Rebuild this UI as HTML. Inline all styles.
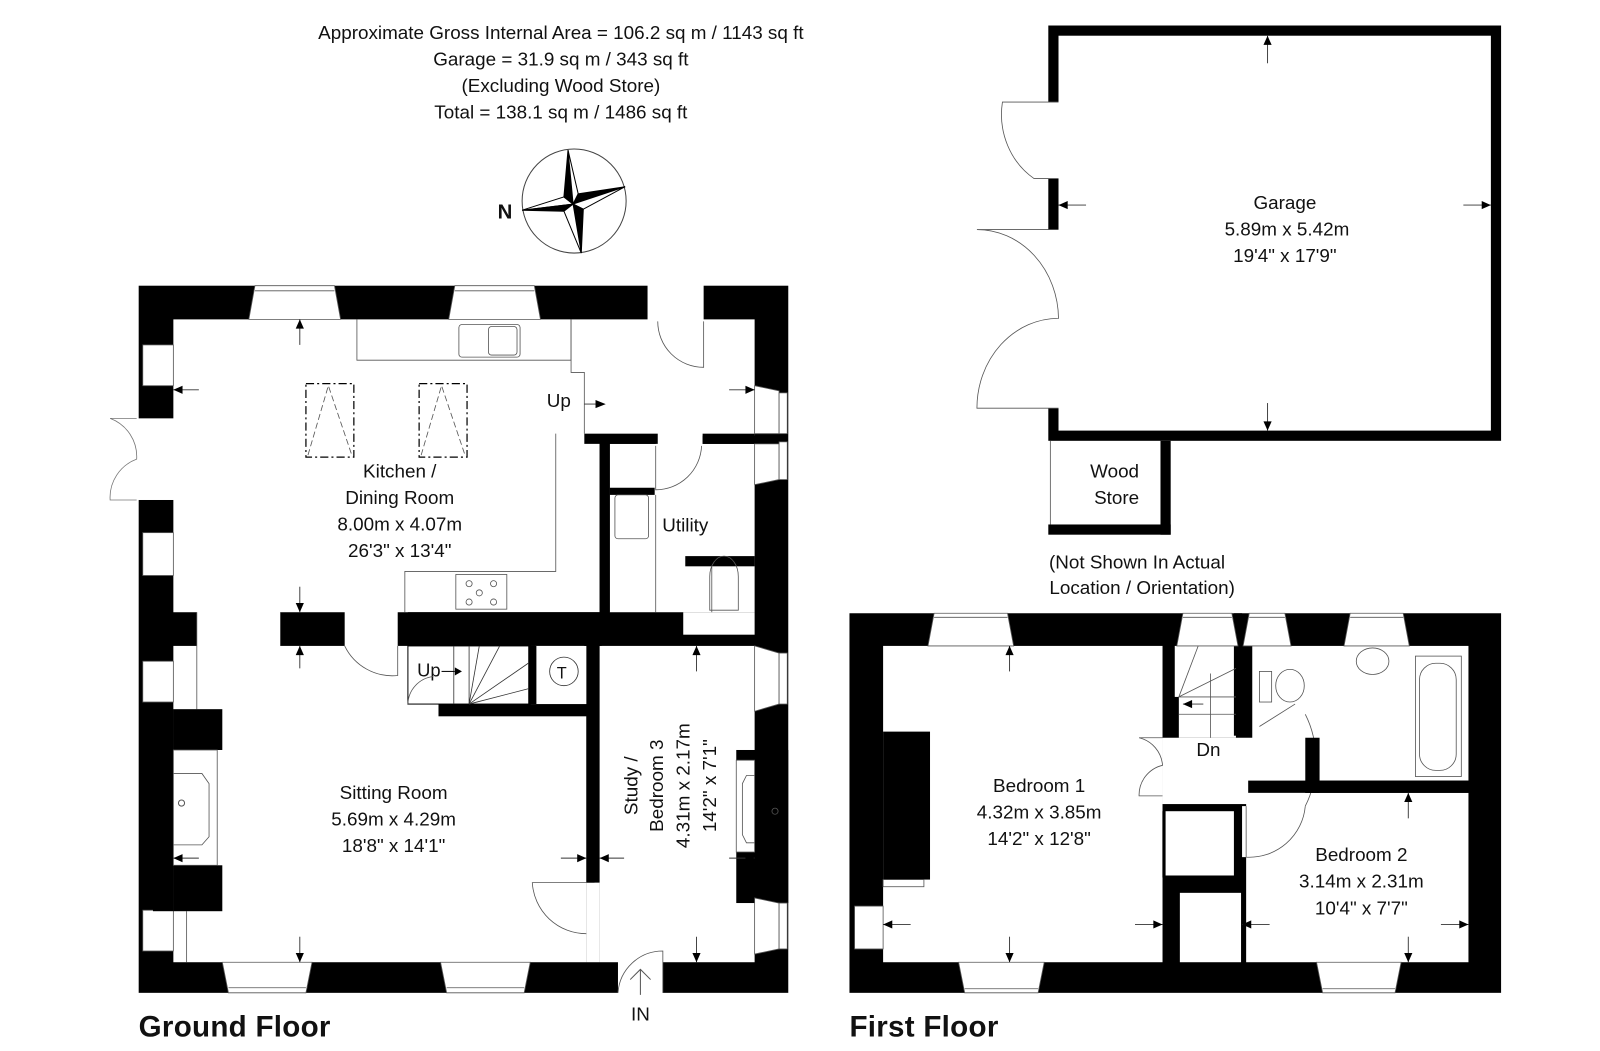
<!DOCTYPE html>
<html><head><meta charset="utf-8"><style>
html,body{margin:0;padding:0;background:#fff;}
svg{display:block;}
text{font-family:"Liberation Sans",sans-serif;fill:#111;}
</style></head><body>
<svg width="1600" height="1051" viewBox="0 0 1569 1030" preserveAspectRatio="none" xmlns="http://www.w3.org/2000/svg">
<rect width="1569" height="1030" fill="#fff"/>
<!-- Title -->
<g font-size="18.5" text-anchor="middle">
<text x="550" y="38">Approximate Gross Internal Area = 106.2 sq m / 1143 sq ft</text>
<text x="550" y="64">Garage = 31.9 sq m / 343 sq ft</text>
<text x="550" y="90">(Excluding Wood Store)</text>
<text x="550" y="116">Total = 138.1 sq m / 1486 sq ft</text>
</g>
<!-- Compass -->
<circle cx="563" cy="197" r="51" fill="none" stroke="#444" stroke-width="1"/>
<g stroke="#000" stroke-width="1">
<path d="M512,206 L553,193 L562,200 Z" fill="#fff"/><path d="M512,206 L553,207 L562,200 Z" fill="#000"/>
<path d="M557,147 L553,193 L562,200 Z" fill="#000"/><path d="M557,147 L567,190 L562,200 Z" fill="#fff"/>
<path d="M613,183 L567,190 L562,200 Z" fill="#000"/><path d="M613,183 L572,205 L562,200 Z" fill="#fff"/>
<path d="M570,248 L572,205 L562,200 Z" fill="#000"/><path d="M570,248 L553,207 L562,200 Z" fill="#fff"/>
</g>
<text x="488" y="214" font-size="20" font-weight="bold">N</text>

<!-- ============ GROUND FLOOR ============ -->
<rect x="136" y="280" width="637" height="693" fill="#000"/>
<g fill="#fff">
<rect x="170" y="313" width="570" height="114"/>
<rect x="170" y="424" width="418" height="176"/>
<rect x="598" y="435" width="142" height="165"/>
<rect x="670" y="600" width="70" height="22"/>
<rect x="170" y="633" width="405" height="310"/>
<rect x="588" y="633" width="152" height="310"/>
<rect x="575" y="865" width="13" height="78"/>
<rect x="193" y="598" width="82" height="37"/>
<rect x="338" y="598" width="52" height="37"/>
<rect x="643" y="423" width="46" height="14"/>
<rect x="606" y="940" width="44" height="34"/>
<rect x="635" y="278" width="55" height="37"/>
<rect x="134" y="410" width="38" height="80"/>
</g>
<rect x="573" y="425" width="72" height="10" fill="#000"/>
<rect x="689" y="425" width="51" height="10" fill="#000"/>
<rect x="598" y="478" width="44" height="7" fill="#000"/>
<rect x="672" y="545" width="68" height="10" fill="#000"/>
<rect x="588" y="433" width="10" height="167" fill="#000"/>
<!-- stairs block & wall -->
<rect x="400" y="600" width="190" height="33" fill="#000"/>
<rect x="430" y="690" width="153" height="12" fill="#000"/>
<rect x="575" y="690" width="8" height="175" fill="#000"/>
<rect x="400" y="633" width="120" height="57" fill="#fff" stroke="#000" stroke-width="1"/>
<rect x="525" y="633" width="48" height="50" fill="#fff"/>
<rect x="518" y="633" width="8" height="57" fill="#000"/>
<g stroke="#333" stroke-width="0.8" fill="none">
<line x1="460" y1="633" x2="460" y2="690"/><line x1="445" y1="633" x2="445" y2="690"/>
<line x1="460" y1="690" x2="470" y2="633"/><line x1="460" y1="690" x2="490" y2="633"/>
<line x1="460" y1="690" x2="518" y2="650"/><line x1="460" y1="690" x2="518" y2="675"/>
<circle cx="553" cy="658" r="14"/>
</g>
<text x="546" y="665" font-size="16">T</text>
<text x="409" y="663" font-size="18">Up</text>
<path d="M433,658 L446,658" stroke="#000"/><path d="M446,654 L453,658 L446,662Z"/>
<!-- right chimney -->
<rect x="722" y="735" width="51" height="150" fill="#000"/>
<!-- windows -->
<g fill="#fff" stroke="#555" stroke-width="0.8">
<path d="M250,280 L328,280 L334,313 L244,313 Z"/>
<path d="M446,280 L524,280 L530,313 L440,313 Z"/>
<path d="M224,973 L300,973 L306,943 L218,943 Z"/>
<path d="M438,973 L514,973 L520,943 L432,943 Z"/>
<rect x="140" y="338" width="30" height="40"/><rect x="140" y="522" width="30" height="42"/>
<rect x="140" y="648" width="30" height="40"/><rect x="140" y="892" width="30" height="40"/>
<path d="M740,378 L764,383 L764,425 L740,425 Z"/><rect x="764" y="385" width="8" height="40"/>
<path d="M740,435 L764,435 L764,470 L740,475 Z"/><rect x="764" y="433" width="8" height="37"/>
<path d="M740,633 L764,640 L764,690 L740,697 Z"/><rect x="764" y="640" width="8" height="50"/>
<path d="M740,880 L764,885 L764,930 L740,935 Z"/><rect x="764" y="885" width="8" height="45"/>
<rect x="722" y="745" width="18" height="90"/>
</g>
<g stroke="#555" stroke-width="0.8" fill="none">
<line x1="250" y1="285" x2="328" y2="285"/><line x1="446" y1="285" x2="524" y2="285"/>
<line x1="224" y1="968" x2="300" y2="968"/><line x1="438" y1="968" x2="514" y2="968"/>
<path d="M350,313 L350,353 L560,353 L560,313"/><path d="M560,313 L560,365 L573,365 L573,425"/>
<path d="M545,425 L545,560 L397,560 L397,600"/>
<rect x="450" y="318" width="60" height="32" rx="3"/><rect x="479" y="320" width="28" height="28" rx="3"/>
<rect x="447" y="563" width="50" height="34"/>
<circle cx="460" cy="572" r="3"/><circle cx="484" cy="572" r="3"/><circle cx="470" cy="581" r="3"/><circle cx="460" cy="590" r="3"/><circle cx="484" cy="590" r="3"/>
<rect x="300" y="376" width="47" height="72" stroke-dasharray="8,3,2,3" stroke="#000" stroke-width="1.2"/>
<path d="M302,446 L322,378 L345,446" stroke-dasharray="6,3"/>
<rect x="411" y="376" width="47" height="72" stroke-dasharray="8,3,2,3" stroke="#000" stroke-width="1.2"/>
<path d="M413,446 L433,378 L456,446" stroke-dasharray="6,3"/>
<rect x="603" y="485" width="33" height="43" rx="3"/><line x1="643" y1="485" x2="643" y2="600"/>
<path d="M696,565 a14,20 0 1,1 28,0 L724,598 L696,598 Z"/><line x1="698" y1="555" x2="698" y2="600"/>
<path d="M643,437 L643,480 A45,45 0 0,0 688,437"/>
<path d="M690,315 L690,360 A45,45 0 0,1 645,315"/>
<path d="M338,633 A52,52 0 0,0 390,662 L390,633"/>
<path d="M400,690 A28,28 0 0,1 425,663"/>
<path d="M575,865 L522,865 A53,53 0 0,0 575,915"/>
<path d="M606,973 A44,44 0 0,1 650,932 L650,973"/>
<path d="M134,410 L108,410 A40,40 0 0,1 134,450 A40,40 0 0,0 108,490 L134,490" stroke="#777"/>
<line x1="193" y1="600" x2="193" y2="633"/><line x1="275" y1="600" x2="275" y2="633"/>
<line x1="193" y1="633" x2="193" y2="695"/><line x1="183" y1="893" x2="183" y2="943"/>
<path d="M740,760 L732,760 L728,768 L728,818 L732,826 L740,826"/><circle cx="760" cy="795" r="3"/>
</g>
<rect x="170" y="695" width="48" height="40" fill="#000"/>
<rect x="170" y="848" width="48" height="45" fill="#000"/>
<rect x="150" y="695" width="20" height="198" fill="#000"/>
<rect x="170" y="735" width="43" height="113" fill="#fff" stroke="#555" stroke-width="0.8"/>
<path d="M170,758 L198,758 L205,768 L205,820 L198,828 L170,828" fill="none" stroke="#555" stroke-width="0.8"/>
<circle cx="178" cy="787" r="3" fill="none" stroke="#555"/>
<path d="M628,975 L628,950 M618,960 L628,950 L638,960" fill="none" stroke="#555" stroke-width="1"/>
<g stroke="#333" stroke-width="0.9">
<line x1="294" y1="313" x2="294" y2="338"/><line x1="294" y1="575" x2="294" y2="600"/>
<line x1="170" y1="382" x2="195" y2="382"/><line x1="715" y1="382" x2="740" y2="382"/>
<line x1="294" y1="633" x2="294" y2="655"/><line x1="294" y1="918" x2="294" y2="943"/>
<line x1="170" y1="841" x2="195" y2="841"/><line x1="550" y1="841" x2="575" y2="841"/>
<line x1="588" y1="841" x2="612" y2="841"/><line x1="715" y1="841" x2="740" y2="841"/>
<line x1="683" y1="633" x2="683" y2="658"/><line x1="683" y1="918" x2="683" y2="943"/>
<line x1="573" y1="396" x2="590" y2="396"/>
</g>
<g fill="#000">
<path d="M290,322 L294,313 L298,322Z"/><path d="M290,591 L294,600 L298,591Z"/>
<path d="M179,378 L170,382 L179,386Z"/><path d="M731,378 L740,382 L731,386Z"/>
<path d="M290,642 L294,633 L298,642Z"/><path d="M290,934 L294,943 L298,934Z"/>
<path d="M179,837 L170,841 L179,845Z"/><path d="M566,837 L575,841 L566,845Z"/>
<path d="M597,837 L588,841 L597,845Z"/><path d="M731,837 L740,841 L731,845Z"/>
<path d="M679,642 L683,633 L687,642Z"/><path d="M679,934 L683,943 L687,934Z"/>
<path d="M584,392 L594,396 L584,400Z"/>
</g>
<g font-size="18.5" text-anchor="middle">
<text x="392" y="468">Kitchen /</text><text x="392" y="494">Dining Room</text>
<text x="392" y="520">8.00m x 4.07m</text><text x="392" y="546">26'3" x 13'4"</text>
<text x="548" y="399">Up</text>
<text x="672" y="521">Utility</text>
<text x="386" y="783">Sitting Room</text><text x="386" y="809">5.69m x 4.29m</text><text x="386" y="835">18'8" x 14'1"</text>
<g transform="translate(625,770) rotate(-90)"><text x="0" y="0">Study /</text></g>
<g transform="translate(650,770) rotate(-90)"><text x="0" y="0">Bedroom 3</text></g>
<g transform="translate(676,770) rotate(-90)"><text x="0" y="0">4.31m x 2.17m</text></g>
<g transform="translate(702,770) rotate(-90)"><text x="0" y="0">14'2" x 7'1"</text></g>
<text x="628" y="1000">IN</text>
</g>
<text x="136" y="1016" font-size="29" font-weight="bold" textLength="188">Ground Floor</text>

<!-- ============ GARAGE ============ -->
<rect x="1028" y="25" width="444" height="407" fill="#000"/>
<rect x="1038" y="35" width="424" height="387" fill="#fff"/>
<rect x="1026" y="100" width="14" height="75" fill="#fff"/>
<rect x="1026" y="225" width="14" height="175" fill="#fff"/>
<g stroke="#555" stroke-width="0.8" fill="none">
<path d="M1038,175 L1014,175 A70,75 0 0,1 983,100 L1038,100"/>
<path d="M1038,400 L958,400 A80,88 0 0,1 1038,312 A80,88 0 0,0 958,225 L1038,225"/>
<line x1="1030" y1="432" x2="1030" y2="514"/>
</g>
<rect x="1028" y="514" width="120" height="10" fill="#000"/>
<rect x="1138" y="432" width="10" height="92" fill="#000"/>
<g stroke="#333" stroke-width="0.9">
<line x1="1243" y1="35" x2="1243" y2="62"/><line x1="1243" y1="395" x2="1243" y2="422"/>
<line x1="1038" y1="201" x2="1065" y2="201"/><line x1="1435" y1="201" x2="1462" y2="201"/>
</g>
<g fill="#000">
<path d="M1239,44 L1243,35 L1247,44Z"/><path d="M1239,413 L1243,422 L1247,413Z"/>
<path d="M1047,197 L1038,201 L1047,205Z"/><path d="M1453,197 L1462,201 L1453,205Z"/>
</g>
<g font-size="18.5" text-anchor="middle">
<text x="1260" y="205">Garage</text><text x="1262" y="231">5.89m x 5.42m</text><text x="1260" y="257">19'4" x 17'9"</text>
<text x="1093" y="468">Wood</text><text x="1095" y="494">Store</text>
<text x="1115" y="557">(Not Shown In Actual</text><text x="1120" y="582">Location / Orientation)</text>
</g>

<!-- ============ FIRST FLOOR ============ -->
<rect x="833" y="601" width="639" height="372" fill="#000"/>
<g fill="#fff">
<rect x="866" y="633" width="274" height="310"/>
<rect x="1152" y="633" width="60" height="50"/>
<rect x="1156" y="683" width="56" height="40"/>
<rect x="1140" y="723" width="140" height="65"/>
<rect x="1228" y="633" width="212" height="132"/>
<rect x="1270" y="650" width="30" height="80"/>
<rect x="1222" y="777" width="218" height="166"/>
<rect x="1218" y="790" width="6" height="50"/>
<rect x="1143" y="795" width="67" height="63"/>
<rect x="1157" y="875" width="60" height="68"/>
</g>
<rect x="866" y="717" width="46" height="145" fill="#000"/>
<rect x="1210" y="601" width="8" height="120" fill="#000"/>
<g stroke="#555" stroke-width="0.8" fill="none">
<rect x="866" y="862" width="40" height="7"/>
<rect x="838" y="888" width="28" height="42" fill="#fff"/>
<path d="M916,601 L988,601 L994,633 L910,633 Z" fill="#fff"/>
<path d="M1160,601 L1208,601 L1214,633 L1154,633 Z" fill="#fff"/>
<path d="M1225,601 L1260,601 L1266,633 L1219,633 Z" fill="#fff"/>
<path d="M1324,601 L1376,601 L1382,633 L1318,633 Z" fill="#fff"/>
<path d="M946,973 L1018,973 L1024,943 L940,943 Z" fill="#fff"/>
<path d="M1297,973 L1368,973 L1374,943 L1291,943 Z" fill="#fff"/>
<line x1="916" y1="605" x2="988" y2="605"/><line x1="1160" y1="605" x2="1208" y2="605"/>
<line x1="1225" y1="605" x2="1260" y2="605"/><line x1="1324" y1="605" x2="1376" y2="605"/>
<line x1="946" y1="969" x2="1018" y2="969"/><line x1="1297" y1="969" x2="1368" y2="969"/>
<line x1="1156" y1="683" x2="1212" y2="683"/><line x1="1156" y1="700" x2="1212" y2="700"/>
<line x1="1187" y1="660" x2="1187" y2="723"/><line x1="1156" y1="683" x2="1175" y2="633"/>
<line x1="1156" y1="683" x2="1212" y2="655"/>
<rect x="1388" y="643" width="45" height="118"/><rect x="1392" y="650" width="36" height="105" rx="16"/>
<ellipse cx="1346" cy="648" rx="16" ry="13"/>
<ellipse cx="1265" cy="672" rx="14" ry="16"/><rect x="1235" y="658" width="12" height="30"/>
<path d="M1235,712 L1270,690" />
<path d="M1280,700 A60,80 0 0,1 1280,790" stroke="#555"/>
<path d="M1222,790 L1222,840 A55,55 0 0,0 1280,790"/>
<path d="M1140,723 L1117,723 A30,30 0 0,1 1140,750 A30,30 0 0,0 1117,780 L1140,780"/>
<line x1="1140" y1="795" x2="1140" y2="860"/>
</g>
<rect x="1280" y="723" width="14" height="54" fill="#000"/>
<rect x="1224" y="765" width="216" height="12" fill="#000"/>
<g stroke="#333" stroke-width="0.9">
<line x1="990" y1="633" x2="990" y2="658"/><line x1="990" y1="918" x2="990" y2="943"/>
<line x1="866" y1="906" x2="893" y2="906"/><line x1="1113" y1="906" x2="1140" y2="906"/>
<line x1="1218" y1="906" x2="1245" y2="906"/><line x1="1413" y1="906" x2="1440" y2="906"/>
<line x1="1381" y1="777" x2="1381" y2="802"/><line x1="1381" y1="918" x2="1381" y2="943"/>
<line x1="1160" y1="690" x2="1180" y2="690"/>
</g>
<g fill="#000">
<path d="M986,642 L990,633 L994,642Z"/><path d="M986,934 L990,943 L994,934Z"/>
<path d="M875,902 L866,906 L875,910Z"/><path d="M1131,902 L1140,906 L1131,910Z"/>
<path d="M1227,902 L1218,906 L1227,910Z"/><path d="M1431,902 L1440,906 L1431,910Z"/>
<path d="M1377,786 L1381,777 L1385,786Z"/><path d="M1377,934 L1381,943 L1385,934Z"/>
<path d="M1169,686 L1160,690 L1169,694Z"/>
</g>
<g font-size="18.5" text-anchor="middle">
<text x="1019" y="776">Bedroom 1</text><text x="1019" y="802">4.32m x 3.85m</text><text x="1019" y="828">14'2" x 12'8"</text>
<text x="1185" y="741">Dn</text>
<text x="1335" y="844">Bedroom 2</text><text x="1335" y="870">3.14m x 2.31m</text><text x="1335" y="896">10'4" x 7'7"</text>
</g>
<text x="833" y="1016" font-size="29" font-weight="bold" textLength="146">First Floor</text>
</svg>
</body></html>
